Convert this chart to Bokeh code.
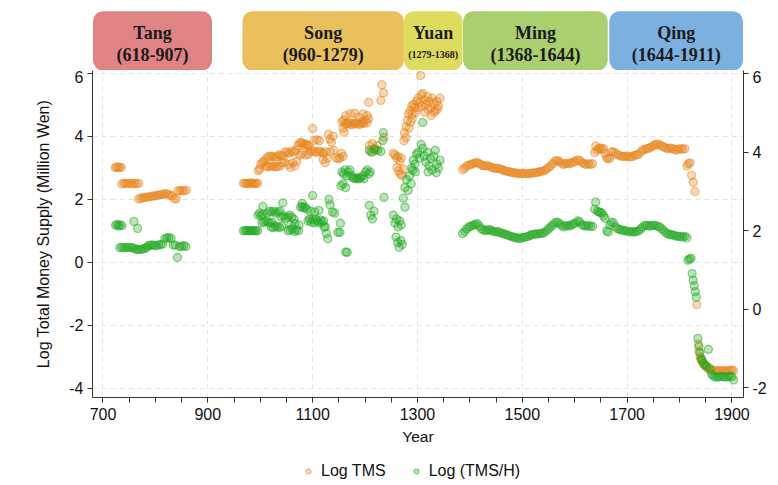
from bokeh.plotting import figure
from bokeh.models import (Range1d, LinearAxis, FixedTicker, Legend, LegendItem,
                          BoxAnnotation, ColumnDataSource, CustomJSTickFormatter)
from bokeh.layouts import column
from bokeh.embed import file_html
from bokeh.resources import INLINE
from bokeh.core.properties import value

# ---------------- data ----------------
# Log TMS (left axis)
tms_tang_year = [723, 726, 729, 732, 735,
                 736, 740, 744, 748, 752, 756, 760, 764, 768,
                 768, 772, 776, 780, 784, 788, 792, 796, 800, 804, 808, 812, 816, 820, 824, 828, 832,
                 836, 840,
                 843, 847, 851, 855, 859]
tms_tang = [3.0, 3.02, 3.0, 3.01, 3.0,
            2.48, 2.5, 2.49, 2.5, 2.5, 2.48, 2.5, 2.49, 2.5,
            2.0, 2.02, 2.04, 2.05, 2.06, 2.07, 2.08, 2.1, 2.1, 2.12, 2.13, 2.14, 2.16, 2.17, 2.15, 2.12, 2.1,
            2.0, 2.02,
            2.26, 2.27, 2.27, 2.26, 2.28]

tms_song_year = [968, 971, 974, 977, 980, 983, 986, 989, 992, 995,
                 996, 999, 1001, 1004, 1007,
                 1010, 1014, 1018, 1022, 1026, 1030, 1034, 1038,
                 1012, 1016, 1020, 1024, 1028, 1032, 1036, 1040, 1044,
                 1042, 1046, 1048, 1052, 1056,
                 1054, 1058, 1062, 1066, 1070, 1060, 1064, 1068,
                 1072, 1075, 1078, 1081, 1084, 1087, 1090, 1093,
                 1076, 1080, 1086, 1092,
                 1096, 1100, 1104, 1108, 1112, 1116, 1120, 1124,
                 1100, 1103, 1108, 1113, 1120, 1124, 1128,
                 1130, 1133, 1136, 1139, 1134, 1140,
                 1145, 1149, 1152, 1155, 1158,
                 1156, 1159, 1162, 1165, 1168, 1171, 1174, 1177, 1180, 1183, 1186, 1189, 1192, 1195,
                 1198, 1201, 1204, 1207,
                 1163, 1172, 1180, 1188, 1196, 1204, 1158, 1160,
                 1207, 1230, 1232, 1235,
                 1208, 1211, 1214, 1217, 1220, 1223, 1236,
                 1254, 1257, 1260, 1263, 1266, 1269,
                 1261, 1264, 1267, 1270, 1273,
                 1274, 1278, 1275, 1278, 1281, 1284, 1287, 1290]
tms_song = [2.5, 2.5, 2.49, 2.5, 2.5, 2.51, 2.5, 2.49, 2.5, 2.5,
            2.9, 2.95, 3.1, 3.17, 3.2,
            3.05, 3.02, 3.03, 3.05, 3.03, 3.02, 3.03, 3.05,
            3.3, 3.35, 3.36, 3.35, 3.32, 3.35, 3.4, 3.38, 3.36,
            3.15, 3.18, 3.5, 3.48, 3.45,
            3.1, 3.0, 3.15, 3.05, 3.2, 3.52, 3.5, 3.55,
            3.7, 3.78, 3.8, 3.76, 3.72, 3.75, 3.7, 3.68,
            3.4, 3.45, 3.4, 3.42,
            3.5, 3.55, 3.5, 3.48, 3.52, 3.5, 3.45, 3.5,
            4.24, 3.86, 3.88, 3.85, 3.25, 3.15, 3.3,
            4.05, 3.9, 3.8, 4.0, 3.5, 3.55,
            3.3, 3.28, 3.3, 3.45, 3.35,
            4.45, 4.5, 4.4, 4.38, 4.42, 4.4, 4.35, 4.4, 4.38, 4.42, 4.4, 4.36, 4.4, 4.45,
            4.4, 4.5, 4.42, 4.55,
            4.65, 4.7, 4.72, 4.6, 4.7, 4.65, 4.25, 4.12,
            5.07, 5.13, 5.63, 5.37,
            3.7, 3.5, 3.76, 3.6, 3.55, 3.7, 3.96,
            3.45, 3.4, 3.3, 3.35, 3.2, 3.3,
            3.0, 2.9, 2.8, 2.75, 2.95,
            3.85, 3.95, 4.1, 4.3, 4.5, 4.25, 4.45, 4.55]

tms_yuan_year = [1283, 1286, 1289, 1292, 1295, 1298, 1301, 1304, 1307, 1310, 1313, 1316, 1319, 1322,
                 1325, 1328, 1331, 1334, 1337, 1340, 1343,
                 1290, 1296, 1302, 1308, 1314, 1320, 1326, 1332, 1338, 1306]
tms_yuan = [4.7, 4.8, 4.95, 5.0, 4.9, 5.1, 5.2, 5.05, 5.3, 5.35, 5.15, 5.0, 5.25, 5.1,
            4.9, 5.2, 5.05, 4.8, 5.1, 4.95, 5.2,
            4.7, 4.75, 4.9, 4.95, 4.75, 4.85, 4.65, 4.75, 4.85, 5.92]

ming_year = [1386, 1390, 1394, 1398, 1402, 1406, 1410, 1414, 1418, 1422, 1426, 1430, 1434, 1438,
             1442, 1446, 1450, 1454, 1458, 1462, 1466, 1470, 1474, 1478, 1482, 1486, 1490, 1494,
             1498, 1502, 1506, 1510, 1514, 1518, 1522, 1526, 1530, 1534, 1538, 1542, 1546, 1550,
             1554, 1558, 1562, 1566, 1570, 1574, 1578, 1582, 1586, 1590, 1594, 1598, 1602, 1606,
             1610, 1614, 1618, 1622, 1626, 1630, 1634]
tms_ming = [2.93, 2.98, 3.05, 3.08, 3.1, 3.12, 3.15, 3.16, 3.12, 3.08, 3.05, 3.05, 3.06, 3.03,
            3.0, 2.98, 2.97, 2.98, 2.95, 2.93, 2.9, 2.88, 2.87, 2.85, 2.84, 2.83, 2.82, 2.8,
            2.81, 2.82, 2.8, 2.8, 2.81, 2.82, 2.83, 2.84, 2.85, 2.87, 2.88, 2.9, 2.95, 3.0,
            3.05, 3.12, 3.2, 3.22, 3.2, 3.15, 3.1, 3.12, 3.14, 3.12, 3.15, 3.18, 3.2, 3.24,
            3.22, 3.15, 3.12, 3.1, 3.12, 3.1, 3.12]

tms_qing_year = [1638, 1640, 1643, 1646, 1649, 1652, 1655, 1658, 1661, 1664, 1667,
                 1670, 1674, 1678, 1682, 1686, 1690, 1694, 1698, 1702, 1706, 1710, 1714,
                 1718, 1722, 1726, 1730, 1734, 1738, 1742, 1746, 1750, 1754, 1758, 1762,
                 1766, 1770, 1774, 1778, 1782, 1786, 1790, 1794, 1798, 1802, 1806, 1810,
                 1814, 1817, 1820, 1823, 1826, 1829,
                 1833, 1836, 1837, 1839, 1841, 1843, 1846, 1849, 1852, 1856,
                 1860, 1864, 1868, 1872, 1876, 1880, 1884, 1888, 1892, 1896, 1900, 1903]
tms_qing = [3.48, 3.68, 3.55, 3.6, 3.62, 3.58, 3.6, 3.45, 3.3, 3.28, 3.3,
            3.5, 3.5, 3.45, 3.4, 3.38, 3.35, 3.35, 3.36, 3.35, 3.34, 3.35, 3.38,
            3.4, 3.42, 3.5, 3.55, 3.58, 3.6, 3.62, 3.65, 3.7, 3.72, 3.75, 3.72,
            3.68, 3.65, 3.62, 3.6, 3.62, 3.6, 3.58, 3.55, 3.58, 3.6, 3.58, 3.6,
            3.05, 3.12, 3.15, 2.75, 2.53, 2.24,
            -1.35, -2.6, -2.85, -3.0, -3.1, -3.15, -3.25, -3.3, -3.35, -3.4,
            -3.44, -3.45, -3.44, -3.46, -3.45, -3.44, -3.45, -3.46, -3.44, -3.45, -3.43, -3.45]

# Log (TMS/H) (right axis)
tmsh_tang_year = [724, 727, 730, 733, 736, 759, 766,
                  732, 736, 740, 744, 748, 752, 756,
                  760, 764, 768, 772, 776, 780, 784,
                  786, 790, 794, 798, 802, 806, 810, 814,
                  818, 822, 826, 830, 834, 838, 842,
                  846, 850, 854, 858]
tmsh_tang = [2.14, 2.16, 2.12, 2.15, 2.13, 2.24, 2.06,
             1.57, 1.58, 1.56, 1.58, 1.57, 1.58, 1.57,
             1.55, 1.52, 1.53, 1.52, 1.54, 1.55, 1.58,
             1.62, 1.63, 1.64, 1.63, 1.62, 1.64, 1.65, 1.66,
             1.8, 1.82, 1.83, 1.8, 1.64, 1.63, 1.32,
             1.6, 1.6, 1.62, 1.6]

tmsh_song_year = [968, 971, 974, 977, 980, 983, 986, 989, 992, 995,
                  996, 999, 1002, 1005, 1005,
                  1003, 1007, 1011, 1015, 1019, 1023,
                  1014, 1018, 1022, 1026, 1030, 1034, 1038,
                  1021, 1025, 1029, 1033, 1037, 1041, 1043,
                  1040, 1044, 1048, 1052, 1056, 1060, 1064,
                  1053, 1057, 1061, 1065, 1069, 1073, 1058, 1066, 1074,
                  1077, 1080, 1083, 1086, 1089, 1080,
                  1091, 1094, 1097, 1100, 1103, 1106, 1109, 1112, 1115, 1118, 1121,
                  1100, 1096, 1104, 1112, 1122, 1124, 1126, 1129, 1131, 1133,
                  1138, 1142, 1148, 1152, 1163, 1166, 1153,
                  1156, 1159, 1162, 1165, 1168, 1171, 1174, 1177, 1180, 1183, 1186, 1189,
                  1192, 1195, 1198, 1201, 1204, 1207, 1210,
                  1154, 1158, 1163,
                  1208, 1211, 1214, 1217,
                  1208, 1213, 1218, 1224, 1230, 1234, 1235, 1236,
                  1254, 1257, 1260, 1263, 1266, 1269,
                  1259, 1262, 1265, 1268, 1271,
                  1273, 1276, 1276, 1279, 1282, 1285, 1288, 1291]
tmsh_song = [2.0, 2.0, 2.01, 2.0, 2.0, 2.0, 2.01, 2.0, 2.0, 2.0,
             2.4, 2.45, 2.38, 2.42, 2.62,
             2.2, 2.22, 2.25, 2.22, 2.2, 2.22,
             2.45, 2.5, 2.48, 2.5, 2.45, 2.48, 2.5,
             2.1, 2.08, 2.12, 2.1, 2.08, 2.12, 2.71,
             2.35, 2.38, 2.32, 2.35, 2.4, 2.35, 2.3,
             2.0, 2.02, 2.05, 1.98, 2.02, 2.0, 2.15, 2.18, 2.15,
             2.6, 2.62, 2.58, 2.6, 2.55, 2.7,
             2.25, 2.3, 2.22, 2.28, 2.2, 2.3, 2.25, 2.2, 2.28, 2.22, 2.25,
             2.9, 2.5, 2.48, 2.52, 2.1, 2.1, 1.93, 1.8, 2.8, 2.66,
             2.48, 2.45, 1.96, 1.96, 1.46, 1.45, 2.19,
             3.5, 3.45, 3.55, 3.4, 3.5, 3.55, 3.4, 3.35, 3.33, 3.35, 3.32, 3.34,
             3.35, 3.4, 3.33, 3.5, 3.55, 3.45, 3.5,
             3.15, 3.2, 3.1,
             2.65, 2.4, 2.3, 2.5,
             4.05, 4.0, 4.08, 4.05, 4.02, 4.3, 4.5, 2.85,
             2.4, 2.2, 2.3, 2.1, 2.25, 2.15,
             1.84, 1.7, 1.58, 1.75, 1.65,
             2.83, 2.6, 3.1, 3.3, 3.03, 3.4, 3.2, 3.54]

tmsh_yuan_year = [1289, 1292, 1295, 1298, 1301, 1304, 1307, 1310, 1313, 1316, 1319, 1322, 1325,
                  1328, 1331, 1334, 1337, 1340, 1343, 1296, 1320, 1336, 1310]
tmsh_yuan = [3.6, 3.8, 3.7, 3.95, 4.0, 3.85, 4.2, 4.1, 3.9, 3.75, 4.0, 3.65, 3.85,
             3.55, 3.9, 4.05, 3.7, 3.6, 3.8, 3.5, 3.5, 3.48, 4.76]

tmsh_ming = [1.93, 1.98, 2.05, 2.1, 2.12, 2.14, 2.16, 2.18, 2.12, 2.05, 2.02, 2.0, 2.02, 2.03,
             2.0, 1.98, 1.97, 1.98, 1.95, 1.93, 1.92, 1.9, 1.88, 1.86, 1.84, 1.83, 1.82, 1.8,
             1.82, 1.83, 1.84, 1.85, 1.88, 1.9, 1.91, 1.92, 1.92, 1.93, 1.94, 1.95, 2.0, 2.05,
             2.1, 2.15, 2.2, 2.22, 2.2, 2.15, 2.1, 2.12, 2.14, 2.12, 2.15, 2.18, 2.2, 2.25,
             2.22, 2.15, 2.13, 2.12, 2.13, 2.12, 2.11]

tmsh_qing_year = [1638, 1640, 1643, 1646, 1649, 1652, 1655, 1658, 1661, 1664, 1667,
                  1670, 1674, 1678, 1682, 1686, 1690, 1694, 1698, 1702, 1706, 1710, 1714,
                  1718, 1722, 1726, 1730, 1734, 1738, 1742, 1746, 1750, 1754, 1758, 1762,
                  1766, 1770, 1774, 1778, 1782, 1786, 1790, 1794, 1798, 1802, 1806, 1810,
                  1814, 1816, 1819, 1822, 1824, 1826, 1828, 1830, 1832,
                  1835, 1837, 1839, 1841, 1843, 1846, 1849, 1852, 1855, 1858,
                  1861, 1864, 1868, 1872, 1876, 1880, 1884, 1888, 1892, 1896, 1900, 1903]
tmsh_qing = [2.55, 2.73, 2.5, 2.48, 2.47, 2.45, 2.38, 2.32, 2.0, 1.97, 2.15,
             2.22, 2.2, 2.1, 2.05, 2.03, 2.02, 2.0, 2.0, 1.98, 1.97, 1.98, 1.97,
             1.98, 2.0, 2.05, 2.1, 2.14, 2.14, 2.12, 2.13, 2.14, 2.13, 2.12, 2.1,
             2.05, 2.0, 1.95, 1.92, 1.9, 1.9, 1.88, 1.86, 1.86, 1.85, 1.84, 1.86,
             1.82, 1.25, 1.28, 1.3, 0.91, 0.74, 0.6, 0.45, 0.31,
             -0.74, -0.95, -1.1, -1.25, -1.3, -1.38, -1.42, -1.45, -1.02, -1.5,
             -1.65, -1.7, -1.72, -1.73, -1.72, -1.71, -1.72, -1.73, -1.72, -1.7, -1.72, -1.8]

dynasties = ["Tang", "Song", "Yuan", "Ming", "Qing"]
periods = ["(618-907)", "(960-1279)", "(1279-1368)", "(1368-1644)", "(1644-1911)"]
series_labels = ["Log TMS", "Log (TMS/H)"]

x_ticks = [700, 900, 1100, 1300, 1500, 1700, 1900]
x_minor = [700, 750, 800, 850, 900, 950, 1000, 1050, 1100, 1150, 1200, 1250, 1300, 1350,
           1400, 1450, 1500, 1550, 1600, 1650, 1700, 1750, 1800, 1850, 1900]
yl_ticks = [-4, -2, 0, 2, 4, 6]
yr_ticks = [-2, 0, 2, 4, 6]

# ---------------- layout / style ----------------
FONT = "Liberation Sans"
SERIF = "Liberation Serif"
ORANGE = "#E8861C"
GREEN = "#20A820"
AX = "#333333"
TXT = "#111111"

FW, FH = 651, 327
BL, BR = 92, 35
W = FW + BL + BR
TOP_H = 70
LEG_H = 36

xr = Range1d(680, 1922)

# banner: box extents in year units (decorative, aligned to the year scale)
box_start = [681, 966, 1274, 1387, 1666]
box_end = [908, 1274, 1386, 1663, 1921]
box_colors = ["#E08385", "#E9C05B", "#DEDC5E", "#A9CF6E", "#7CB1DF"]
period_sizes = ["18px", "18px", "10px", "18px", "18px"]

t = figure(width=W, height=TOP_H, x_range=xr, y_range=Range1d(0, TOP_H),
           min_border_left=BL, min_border_right=BR, min_border_top=0, min_border_bottom=0,
           x_axis_type=None, y_axis_type=None,
           output_backend="svg", toolbar_location=None, outline_line_color=None, title=None)
t.grid.visible = False
for s, e, c in zip(box_start, box_end, box_colors):
    t.add_layout(BoxAnnotation(left=s, right=e, bottom=0, top=TOP_H - 10.7, fill_color=c,
                               fill_alpha=1.0, line_color=None, border_radius=10,
                               level="underlay"))
centers = [(s + e) / 2 for s, e in zip(box_start, box_end)]
src_t = ColumnDataSource(dict(x=centers, y1=[37.8] * 5, y2=[16] * 5, name=dynasties,
                              per=periods, fs=period_sizes))
t.text(x="x", y="y1", text="name", source=src_t, text_font=value(SERIF),
       text_font_style="bold", text_font_size="18px", text_align="center",
       text_baseline="middle", text_color="#1a1a1a")
t.text(x="x", y="y2", text="per", source=src_t, text_font=value(SERIF),
       text_font_style="bold", text_font_size="fs", text_align="center",
       text_baseline="middle", text_color="#1a1a1a")

p = figure(frame_width=FW, frame_height=FH, x_range=xr,
           y_range=Range1d(-4.30, 6.08), min_border_left=BL, min_border_right=BR,
           min_border_top=0, min_border_bottom=0, output_backend="svg",
           toolbar_location=None, title=None)
p.extra_y_ranges = {"r": Range1d(-2.247, 6.084)}
p.outline_line_color = None

tms_year = tms_tang_year + tms_song_year + tms_yuan_year + ming_year + tms_qing_year
tms_val = tms_tang + tms_song + tms_yuan + tms_ming + tms_qing
tmsh_year = tmsh_tang_year + tmsh_song_year + tmsh_yuan_year + ming_year + tmsh_qing_year
tmsh_val = tmsh_tang + tmsh_song + tmsh_yuan + tmsh_ming + tmsh_qing

style_o = dict(marker="circle", size=8, fill_color=ORANGE, fill_alpha=0.3,
               line_color=ORANGE, line_alpha=0.5, line_width=1.3)
style_g = dict(marker="circle", size=8, fill_color=GREEN, fill_alpha=0.3,
               line_color=GREEN, line_alpha=0.5, line_width=1.3)
p.scatter(tms_year, tms_val, **style_o)
p.scatter(tmsh_year, tmsh_val, y_range_name="r", **style_g)

raxis = LinearAxis(y_range_name="r")
p.add_layout(raxis, "right")
xa, ya = p.below[0], p.left[0]
xa.ticker = FixedTicker(ticks=x_ticks, minor_ticks=x_minor)
ya.ticker = FixedTicker(ticks=yl_ticks)
raxis.ticker = FixedTicker(ticks=yr_ticks)
for ax in (xa, ya, raxis):
    ax.formatter = CustomJSTickFormatter(code="return tick.toFixed(0);")
    ax.axis_line_color = AX
    ax.major_tick_line_color = AX
    ax.major_tick_in = 0
    ax.major_tick_out = 5
    ax.minor_tick_in = 0
    ax.minor_tick_out = 5
    ax.major_label_text_font = FONT
    ax.major_label_text_font_size = "16px"
    ax.major_label_text_color = TXT
    ax.major_label_standoff = 4
    ax.axis_label_text_font = FONT
    ax.axis_label_text_font_size = "16px"
    ax.axis_label_text_font_style = "normal"
    ax.axis_label_text_color = TXT
xa.minor_tick_line_color = AX
ya.minor_tick_line_color = None
raxis.minor_tick_line_color = None
xa.major_label_standoff = 5
xa.axis_label = "Year"
xa.axis_label_text_font_size = "15.5px"
xa.axis_label_standoff = 5
ya.axis_label = "Log Total Money Supply (Million Wen)"
ya.axis_label_standoff = 14

p.xgrid.ticker = FixedTicker(ticks=x_ticks)
p.ygrid.ticker = FixedTicker(ticks=yl_ticks)
for g in (p.xgrid[0], p.ygrid[0]):
    g.grid_line_color = "#e4e4e4"
    g.grid_line_dash = "5 4"
    g.grid_line_width = 1

# legend strip below the chart: same series drawn with the same styles, but the
# strip's own ranges keep them out of view so that only the legend keys show
lg = figure(width=W, height=LEG_H, x_range=Range1d(0, 1), y_range=Range1d(0, 1),
            min_border_left=BL, min_border_right=BR, min_border_top=0, min_border_bottom=0,
            x_axis_type=None, y_axis_type=None, output_backend="svg",
            toolbar_location=None, outline_line_color=None, title=None)
lg.grid.visible = False
k1 = lg.scatter(tms_year, tms_val, **style_o)
k2 = lg.scatter(tmsh_year, tmsh_val, **style_g)
legend = Legend(items=[LegendItem(label=series_labels[0], renderers=[k1]),
                       LegendItem(label=series_labels[1], renderers=[k2])],
                orientation="horizontal", location=(210, 2), border_line_color=None,
                background_fill_alpha=0, label_text_font=FONT, label_text_font_size="16px",
                label_text_color=TXT, margin=0, padding=0, spacing=24,
                glyph_width=12, glyph_height=20, label_height=20, label_standoff=7)
lg.add_layout(legend, "center")

layout = column(t, p, lg, spacing=0)
open("out.html", "w").write(file_html(layout, INLINE))
